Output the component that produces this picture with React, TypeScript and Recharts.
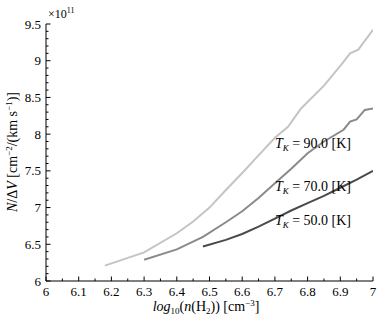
import { LineChart, Line, XAxis, YAxis, ReferenceDot } from "recharts";

// log10(n(H2)) and N/dV (in units of 1e11)
const n90 = [6.18, 6.3, 6.4, 6.45, 6.5, 6.55, 6.6, 6.65, 6.7, 6.74, 6.78, 6.85, 6.9, 6.93, 6.955, 7.0];
const v90 = [6.21, 6.39, 6.65, 6.81, 7.0, 7.24, 7.47, 7.71, 7.95, 8.1, 8.35, 8.66, 8.93, 9.1, 9.15, 9.42];

const n70 = [6.3, 6.4, 6.48, 6.55, 6.6, 6.65, 6.7, 6.75, 6.8, 6.85, 6.91, 6.93, 6.95, 6.975, 7.0];
const v70 = [6.29, 6.43, 6.6, 6.8, 6.95, 7.13, 7.33, 7.53, 7.74, 7.9, 8.06, 8.17, 8.2, 8.33, 8.35];

const n50 = [6.48, 6.55, 6.6, 6.65, 6.7, 6.75, 6.8, 6.85, 6.9, 6.95, 7.0];
const v50 = [6.47, 6.56, 6.64, 6.74, 6.85, 6.96, 7.06, 7.16, 7.27, 7.38, 7.5];

const xMajor = [6, 6.1, 6.2, 6.3, 6.4, 6.5, 6.6, 6.7, 6.8, 6.9, 7];
const xMinor = [6.05, 6.15, 6.25, 6.35, 6.45, 6.55, 6.65, 6.75, 6.85, 6.95];
const yMajor = [6, 6.5, 7, 7.5, 8, 8.5, 9, 9.5];
const yMinor = [
  6.1, 6.2, 6.3, 6.4, 6.6, 6.7, 6.8, 6.9, 7.1, 7.2, 7.3, 7.4, 7.6, 7.7, 7.8, 7.9,
  8.1, 8.2, 8.3, 8.4, 8.6, 8.7, 8.8, 8.9, 9.1, 9.2, 9.3, 9.4,
];

const labels = [
  { temp: "90.0", x: 6.7, y: 7.81 },
  { temp: "70.0", x: 6.7, y: 7.22 },
  { temp: "50.0", x: 6.7, y: 6.76 },
];

const toRows = (xs: number[], ys: number[]) => xs.map((x, i) => ({ x, v: ys[i] }));
const d90 = toRows(n90, v90);
const d70 = toRows(n70, v70);
const d50 = toRows(n50, v50);

const xTicks = [...xMajor, ...xMinor].sort((a, b) => a - b);
const yTicks = [...yMajor, ...yMinor].sort((a, b) => a - b);

const serif = { fontFamily: "Liberation Serif, Times New Roman, serif" };
const isMajor = (list: number[], v: number) => list.some((m) => Math.abs(m - v) < 1e-6);
const fmt = (v: number) => String(Number(v.toFixed(2)));

function BottomTick({ x, y, payload }: any) {
  const major = isMajor(xMajor, payload.value);
  return (
    <g>
      <line x1={x} x2={x} y1={y} y2={y - (major ? 4.5 : 2.5)} stroke="#000" />
      {major && (
        <text x={x} y={y + 15} textAnchor="middle" fontSize={13} style={serif} fill="#000">
          {fmt(payload.value)}
        </text>
      )}
    </g>
  );
}

function TopTick({ x, y, payload }: any) {
  const major = isMajor(xMajor, payload.value);
  return <line x1={x} x2={x} y1={y} y2={y + (major ? 4.5 : 2.5)} stroke="#000" />;
}

function LeftTick({ x, y, payload }: any) {
  const major = isMajor(yMajor, payload.value);
  return (
    <g>
      <line x1={x} x2={x + (major ? 4.5 : 2.5)} y1={y} y2={y} stroke="#000" />
      {major && (
        <text x={x - 5} y={y} dy="0.35em" textAnchor="end" fontSize={13} style={serif} fill="#000">
          {fmt(payload.value)}
        </text>
      )}
    </g>
  );
}

function RightTick({ x, y, payload }: any) {
  const major = isMajor(yMajor, payload.value);
  return <line x1={x} x2={x - (major ? 4.5 : 2.5)} y1={y} y2={y} stroke="#000" />;
}

function TempLabel({ viewBox, temp }: any) {
  const cx = viewBox.x + viewBox.width / 2;
  const cy = viewBox.y + viewBox.height / 2;
  return (
    <text x={cx} y={cy} fontSize={14} style={serif} fill="#000">
      <tspan fontStyle="italic">T</tspan>
      <tspan fontStyle="italic" fontSize={9} dy={3}>K</tspan>
      <tspan dy={-3}>{` = ${temp} [K]`}</tspan>
    </text>
  );
}

export default function App() {
  return (
    <div style={{ position: "absolute", left: 0, top: 0, width: 381, height: 320, background: "#fff" }}>
      <LineChart
        width={381}
        height={320}
        margin={{ top: 24, right: 8, bottom: 9, left: 0 }}
      >
        <XAxis
          dataKey="x"
          type="number"
          domain={[6, 7]}
          ticks={xTicks}
          interval={0}
          height={30}
          tickSize={0}
          tickMargin={0}
          tick={<BottomTick />}
          axisLine={{ stroke: "#000" }}
          tickLine={false}
          allowDataOverflow
        />
        <XAxis
          xAxisId="top"
          orientation="top"
          type="number"
          domain={[6, 7]}
          ticks={xTicks}
          interval={0}
          height={0}
          tickSize={0}
          tickMargin={0}
          tick={<TopTick />}
          axisLine={{ stroke: "#000" }}
          tickLine={false}
        />
        <YAxis
          type="number"
          domain={[6, 9.5]}
          ticks={yTicks}
          interval={0}
          width={46}
          tickSize={0}
          tickMargin={0}
          tick={<LeftTick />}
          axisLine={{ stroke: "#000" }}
          tickLine={false}
          allowDataOverflow
        />
        <YAxis
          yAxisId="right"
          orientation="right"
          type="number"
          domain={[6, 9.5]}
          ticks={yTicks}
          interval={0}
          width={0}
          tickSize={0}
          tickMargin={0}
          tick={<RightTick />}
          axisLine={{ stroke: "#000" }}
          tickLine={false}
        />
        <Line data={d90} dataKey="v" type="linear" stroke="#c4c4c4" strokeWidth={2} dot={false} isAnimationActive={false} />
        <Line data={d70} dataKey="v" type="linear" stroke="#8a8a8a" strokeWidth={2} dot={false} isAnimationActive={false} />
        <Line data={d50} dataKey="v" type="linear" stroke="#4a4a4a" strokeWidth={2} dot={false} isAnimationActive={false} />
        {labels.map((l) => (
          <ReferenceDot
            key={l.temp}
            x={l.x}
            y={l.y}
            r={1}
            fill="none"
            stroke="none"
            label={{ content: (p: any) => <TempLabel {...p} temp={l.temp} /> }}
          />
        ))}
      </LineChart>
      <svg
        width={381}
        height={320}
        style={{ position: "absolute", left: 0, top: 0, pointerEvents: "none" }}
      >
        <text x={48} y={18} fontSize={12} style={serif} fill="#000">
          ×10<tspan fontSize={8} dy={-5}>11</tspan>
        </text>
        <text
          transform="translate(17,152) rotate(-90)"
          textAnchor="middle"
          fontSize={14}
          style={serif}
          fill="#000"
        >
          <tspan fontStyle="italic">N</tspan>/Δ<tspan fontStyle="italic">V</tspan> [cm
          <tspan fontSize={9} dy={-5}>−2</tspan>
          <tspan dy={5}>/(km s</tspan>
          <tspan fontSize={9} dy={-5}>−1</tspan>
          <tspan dy={5}>)]</tspan>
        </text>
        <text x={206} y={311} textAnchor="middle" fontSize={14} style={serif} fill="#000">
          <tspan fontStyle="italic">log</tspan>
          <tspan fontSize={9} dy={3}>10</tspan>
          <tspan dy={-3}>(</tspan>
          <tspan fontStyle="italic">n</tspan>
          <tspan>(H</tspan>
          <tspan fontSize={9} dy={3}>2</tspan>
          <tspan dy={-3}>)) [cm</tspan>
          <tspan fontSize={9} dy={-5}>−3</tspan>
          <tspan dy={5}>]</tspan>
        </text>
      </svg>
    </div>
  );
}
